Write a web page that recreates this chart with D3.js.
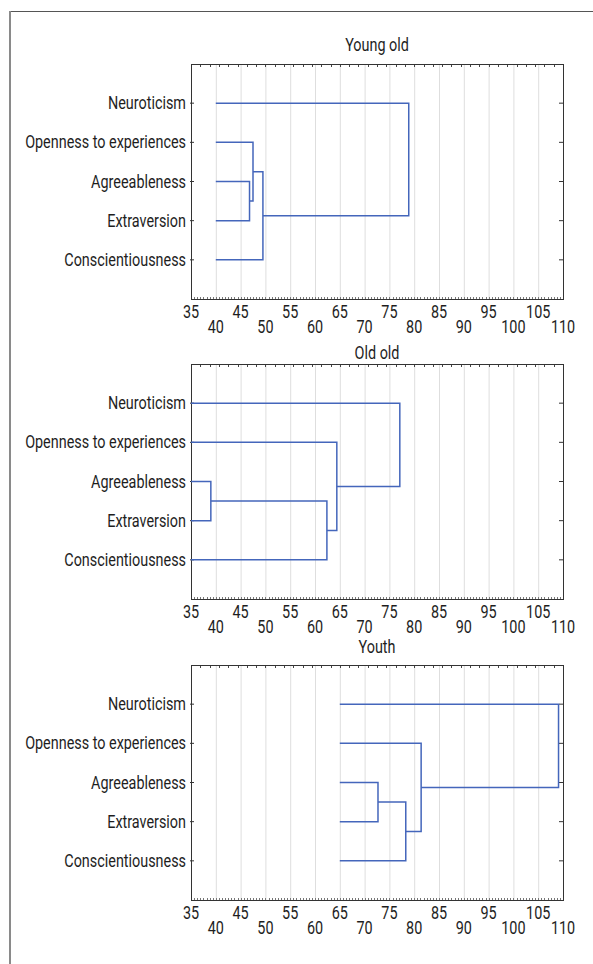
<!DOCTYPE html>
<html>
<head>
<meta charset="utf-8">
<script src="https://cdn.jsdelivr.net/npm/d3@7"></script>
<style>
  body { margin: 0; background: #fff; }
  text { font-family: Roboto, "DejaVu Sans Condensed", sans-serif; fill: #1e1e1e; font-size: 18px; }
</style>
</head>
<body>
<div id="chart"></div>
<script>
var width = 593,
    height = 964;

// row labels (same order in every panel)
var traits = ["Neuroticism", "Openness to experiences", "Agreeableness", "Extraversion", "Conscientiousness"];

var panelTitles = ["Young old", "Old old", "Youth"];

// linkage distance where the leaf lines begin
var leafStart = [40, 35, 65];

// merges: [childA, childB, distance]; leaves are 0..4, new clusters 5,6,7,8
var youngOldMerges = [[2, 3, 46.8], [1, 5, 47.5], [6, 4, 49.5], [0, 7, 78.9]];
var oldOldMerges   = [[2, 3, 39.0], [5, 4, 62.4], [1, 6, 64.4], [0, 7, 77.1]];
var youthMerges    = [[2, 3, 72.7], [5, 4, 78.3], [1, 6, 81.4], [0, 7, 109.1]];

var allMerges = [youngOldMerges, oldOldMerges, youthMerges];

var upperTicks = [35, 45, 55, 65, 75, 85, 95, 105];
var lowerTicks = [40, 50, 60, 70, 80, 90, 100, 110];
var gridValues = [40, 45, 50, 55, 60, 65, 70, 75, 80, 85, 90, 95, 100, 105];

// layout
var plotLeft = 191, plotRight = 563, plotH = 235;
var panelTops = [64, 364, 665];
var titleBase = [51, 359, 653];
var squeeze = 0.8; // fake a condensed face

var svg = d3.select("#chart")
    .append("svg")
    .attr("width", width)
    .attr("height", height);

// condensed text placed at (px, py)
function place(sel, px, py) {
    sel.attr("transform", function (d, i) {
        var tx = typeof px === "function" ? px(d, i) : px,
            ty = typeof py === "function" ? py(d, i) : py;
        return "translate(" + tx + "," + ty + ") scale(" + squeeze + ",1)";
    });
}

// outer frame
svg.append("line")
    .attr("x1", 9).attr("x2", width).attr("y1", 11.5).attr("y2", 11.5)
    .style("stroke", "#555").style("stroke-width", 1);
svg.append("line")
    .attr("x1", 10).attr("x2", 10).attr("y1", 11).attr("y2", height)
    .style("stroke", "#8a8a8a").style("stroke-width", 2);

var x = d3.scaleLinear()
    .domain([35, 110])
    .range([plotLeft, plotRight]);

panelTitles.forEach(function (title, p) {
    var top = panelTops[p];
    var g = svg.append("g");

    var y = d3.scalePoint()
        .domain(traits)
        .range([top, top + plotH])
        .padding(1);

    // vertical grid
    g.selectAll("line.grid")
        .data(gridValues)
        .enter().append("line")
        .attr("class", "grid")
        .attr("x1", function (d) { return x(d) + 0.5; })
        .attr("x2", function (d) { return x(d) + 0.5; })
        .attr("y1", top)
        .attr("y2", top + plotH)
        .style("stroke", "#dedede")
        .style("stroke-width", 1);

    // minor ticks on top and bottom edges
    g.selectAll("line.ttick")
        .data(d3.range(35, 110, 1.875))
        .enter().append("line")
        .attr("x1", function (d) { return Math.round(x(d)) + 0.5; })
        .attr("x2", function (d) { return Math.round(x(d)) + 0.5; })
        .attr("y1", top)
        .attr("y2", top + 3)
        .style("stroke", "#444");
    g.selectAll("line.btick")
        .data(d3.range(35, 110, 0.625))
        .enter().append("line")
        .attr("x1", function (d) { return Math.round(x(d)) + 0.5; })
        .attr("x2", function (d) { return Math.round(x(d)) + 0.5; })
        .attr("y1", top + plotH)
        .attr("y2", top + plotH - 2)
        .style("stroke", "#777");

    // row ticks on left and right edges
    g.selectAll("line.rtick")
        .data(traits)
        .enter().append("line")
        .attr("x1", plotRight)
        .attr("x2", plotRight - 4)
        .attr("y1", function (d) { return y(d); })
        .attr("y2", function (d) { return y(d); })
        .style("stroke", "#333");
    g.selectAll("line.ltick")
        .data(traits)
        .enter().append("line")
        .attr("x1", plotLeft - 1)
        .attr("x2", plotLeft + 3)
        .attr("y1", function (d) { return y(d); })
        .attr("y2", function (d) { return y(d); })
        .style("stroke", "#333");

    // plot box
    g.append("rect")
        .attr("x", plotLeft + 0.5)
        .attr("y", top + 0.5)
        .attr("width", plotRight - plotLeft)
        .attr("height", plotH)
        .style("fill", "none")
        .style("stroke", "#333")
        .style("stroke-width", 1);

    // row labels
    g.selectAll("text.label")
        .data(traits)
        .enter().append("text")
        .attr("class", "label")
        .attr("text-anchor", "end")
        .text(function (d) { return d; })
        .call(place, plotLeft - 5, function (d) { return y(d) + 6; });

    // staggered tick labels
    g.selectAll("text.up")
        .data(upperTicks)
        .enter().append("text")
        .attr("class", "up")
        .attr("text-anchor", "middle")
        .text(function (d) { return d; })
        .call(place, function (d) { return x(d); }, top + plotH + 19);
    g.selectAll("text.low")
        .data(lowerTicks)
        .enter().append("text")
        .attr("class", "low")
        .attr("text-anchor", "middle")
        .text(function (d) { return d; })
        .call(place, function (d) { return x(d); }, top + plotH + 34);

    g.append("text")
        .attr("text-anchor", "middle")
        .text(title)
        .call(place, (plotLeft + plotRight) / 2, titleBase[p]);

    // build node positions then draw the links
    var nodes = traits.map(function (t) {
        return {x: leafStart[p], y: y(t)};
    });
    var links = [];
    allMerges[p].forEach(function (m) {
        var a = nodes[m[0]], b = nodes[m[1]];
        links.push({a: a, b: b, h: m[2]});
        nodes.push({x: m[2], y: (a.y + b.y) / 2});
    });

    g.selectAll("path.link")
        .data(links)
        .enter().append("path")
        .attr("class", "link")
        .attr("d", function (d) {
            return "M" + x(d.a.x) + "," + d.a.y
                + "H" + x(d.h)
                + "V" + d.b.y
                + "H" + x(d.b.x);
        })
        .style("fill", "none")
        .style("stroke", "#4466bb")
        .style("stroke-width", 1.5);
});
</script>
</body>
</html>
